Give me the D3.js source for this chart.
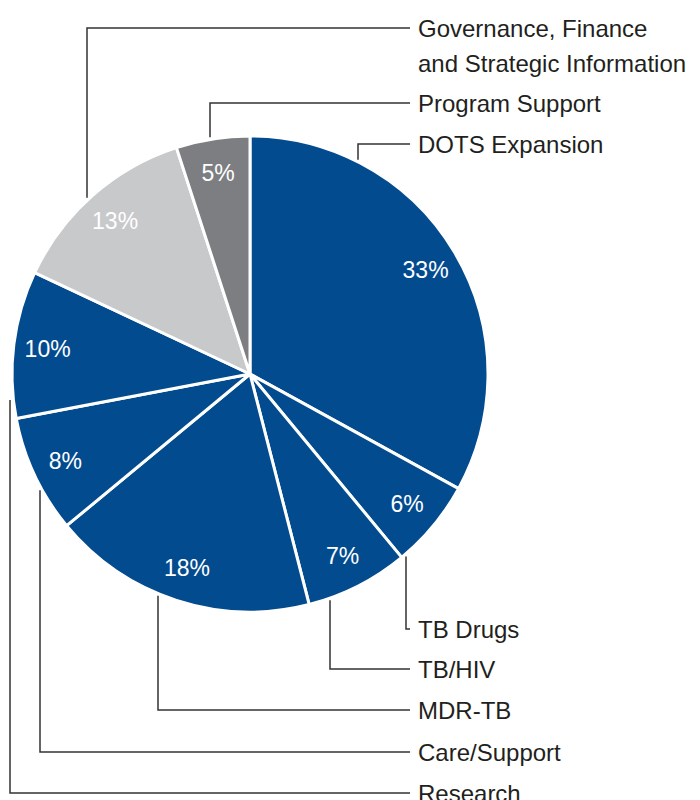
<!DOCTYPE html>
<meta charset="utf-8">
<script src="https://d3js.org/d3.v7.min.js"></script>
<style>
  body { margin: 0; background: #fff; }
  text { font-family: "Liberation Sans", Arial, sans-serif; }
</style>
<body>
<svg id="chart" width="700" height="800"></svg>
<script>
  // data, clockwise from 12 o'clock
  var categories = ["DOTS Expansion", "TB Drugs", "TB/HIV", "MDR-TB", "Care/Support",
                    "Research", "Governance, Finance|and Strategic Information", "Program Support"];
  var shares = [33, 6, 7, 18, 8, 10, 13, 5];
  var sliceColors = ["#034b8f", "#034b8f", "#034b8f", "#034b8f", "#034b8f",
                     "#034b8f", "#c8c9cb", "#7d7e81"];

  // layout: leader line x where it leaves the pie, side and label row it goes to
  var leaderX = [358, 406, 330, 158, 40, 10, 87, 210];
  var labelSide = ["top", "bottom", "bottom", "bottom", "bottom", "bottom", "top", "top"];
  var labelRow = [3, 0, 1, 2, 3, 4, 0, 2];
  var topRowsY = [28, 63, 103, 144];
  var bottomRowsY = [629, 669, 710, 752, 793];

  var svg = d3.select("#chart"),
      cx = 250, cy = 374, radius = 238;

  var data = categories.map(function(c, i) {
    return { name: c, value: shares[i], color: sliceColors[i],
             lx: leaderX[i], side: labelSide[i], row: labelRow[i] };
  });

  var pie = d3.pie().sort(null).value(function(d) { return d.value; });
  var arc = d3.arc().innerRadius(0).outerRadius(radius);
  var labelArc = d3.arc().innerRadius(204).outerRadius(204);
  var arcs = pie(data);

  var g = svg.append("g").attr("transform", "translate(" + cx + "," + cy + ")");

  g.selectAll("path")
    .data(arcs)
    .enter()
    .append("path")
    .attr("d", arc)
    .attr("fill", function(d) { return d.data.color; })
    .attr("stroke", "#fff")
    .attr("stroke-width", 3)
    .attr("stroke-linejoin", "round");

  g.selectAll("text.pct")
    .data(arcs)
    .enter()
    .append("text")
    .attr("class", "pct")
    .attr("transform", function(d) {
      var p = labelArc.centroid(d);
      return "translate(" + p[0] + "," + p[1] + ")";
    })
    .attr("text-anchor", "middle")
    .attr("dy", "0.36em")
    .attr("fill", "#fff")
    .style("font-size", "23px")
    .text(function(d) { return d.value + "%"; });

  // leader lines + category labels
  var textX = 418, lineEnd = 410, gap = 2;
  arcs.forEach(function(d) {
    var upper = d.data.side === "top";
    var dx = d.data.lx - cx;
    var rr = radius + gap;
    var off = Math.sqrt(Math.max(rr * rr - dx * dx, 0));
    var y0 = upper ? cy - off : cy + off;
    var y1 = upper ? topRowsY[d.data.row] : bottomRowsY[d.data.row];
    if (d.data.name === "Research") y0 = 400;   // leaves from the pie's far left edge

    svg.append("path")
      .attr("d", "M" + d.data.lx + "," + y0 + "V" + y1 + "H" + lineEnd)
      .attr("fill", "none")
      .attr("stroke", "#333")
      .attr("stroke-width", 1.5);

    var lines = d.data.name.split("|");
    var t = svg.append("text")
      .attr("x", textX)
      .attr("y", y1)
      .attr("fill", "#231f20")
      .style("font-size", "24px");
    lines.forEach(function(l, k) {
      t.append("tspan")
        .attr("x", textX)
        .attr("dy", k === 0 ? "0.36em" : "35px")
        .text(l);
    });
  });
</script>
</body>
